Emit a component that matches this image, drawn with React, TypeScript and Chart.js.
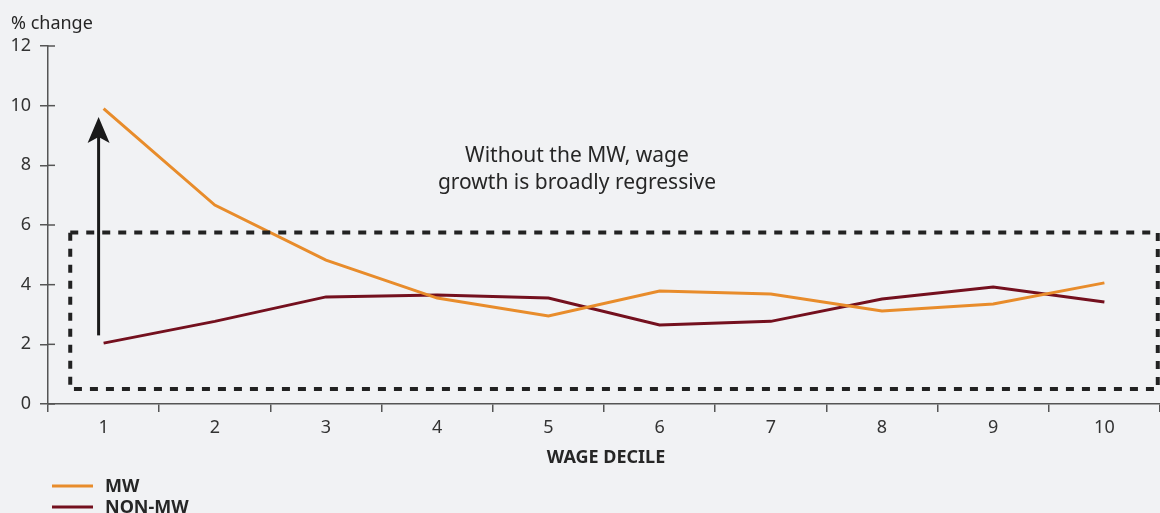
import React, { useEffect, useRef } from "react";
import { Chart, registerables } from "chart.js";

Chart.register(...registerables);

const deciles = ["1", "2", "3", "4", "5", "6", "7", "8", "9", "10"];
const mwValues = [9.9, 6.67, 4.82, 3.55, 2.95, 3.79, 3.69, 3.12, 3.35, 4.06];
const nonMwValues = [2.04, 2.77, 3.59, 3.65, 3.55, 2.65, 2.77, 3.52, 3.92, 3.42];
const yTicks = [0, 2, 4, 6, 8, 10, 12];

const annotationLines = ["Without the MW, wage", "growth is broadly regressive"];
const yAxisTitle = "% change";
const xAxisTitle = "WAGE DECILE";
const legendLabels = ["MW", "NON-MW"];

// annotation geometry in data coordinates (category index, value)
const boxXRange = [-0.3, 9.48];
const boxYRange = [0.5, 5.75];
const arrowX = -0.045;
const arrowYRange = [2.3, 9.62];

const BG = "#f1f2f4";
const ORANGE = "#e88c2b";
const MAROON = "#74101e";
const TEXT = "#262626";
const AXIS = "#555555";
const FONT = "'Noto Sans', 'Open Sans', sans-serif";

export default function App() {
  const ref = useRef<HTMLCanvasElement | null>(null);

  useEffect(() => {
    document.body.style.margin = "0";
    document.body.style.background = BG;
    const canvas = ref.current;
    if (!canvas) return;

    const overlay = {
      id: "overlay",
      beforeDraw(chart: any) {
        const ctx = chart.ctx;
        ctx.save();
        ctx.fillStyle = BG;
        ctx.fillRect(0, 0, chart.width, chart.height);
        ctx.restore();
      },
      afterDraw(chart: any) {
        const ctx = chart.ctx;
        const xs = chart.scales.x;
        const ys = chart.scales.y;
        const area = chart.chartArea;
        ctx.save();

        // y tick marks crossing into chart
        ctx.strokeStyle = AXIS;
        ctx.lineWidth = 1.5;
        yTicks.forEach((t) => {
          const py = ys.getPixelForValue(t);
          ctx.beginPath();
          ctx.moveTo(area.left, py);
          ctx.lineTo(area.left + 7, py);
          ctx.stroke();
        });

        // y axis title
        ctx.fillStyle = TEXT;
        ctx.font = `18px ${FONT}`;
        ctx.textAlign = "left";
        ctx.textBaseline = "middle";
        ctx.fillText(yAxisTitle, 11, 24);

        // x axis title
        ctx.font = `bold 18px ${FONT}`;
        ctx.textAlign = "center";
        ctx.fillText(xAxisTitle, (area.left + area.right) / 2 + 2, 458);

        // dashed box
        const bx1 = xs.getPixelForValue(boxXRange[0]);
        const bx2 = xs.getPixelForValue(boxXRange[1]);
        const by1 = ys.getPixelForValue(boxYRange[1]);
        const by2 = ys.getPixelForValue(boxYRange[0]);
        ctx.strokeStyle = "#222222";
        ctx.lineWidth = 4;
        ctx.setLineDash([8, 8]);
        ctx.strokeRect(bx1, by1, bx2 - bx1, by2 - by1);
        ctx.setLineDash([]);

        // arrow
        const ax = xs.getPixelForValue(arrowX);
        const ay1 = ys.getPixelForValue(arrowYRange[0]);
        const ay2 = ys.getPixelForValue(arrowYRange[1]);
        ctx.strokeStyle = "#1a1a1a";
        ctx.fillStyle = "#1a1a1a";
        ctx.lineWidth = 3;
        ctx.beginPath();
        ctx.moveTo(ax, ay1);
        ctx.lineTo(ax, ay2 + 15);
        ctx.stroke();
        ctx.beginPath();
        ctx.moveTo(ax, ay2);
        ctx.lineTo(ax + 11, ay2 + 26);
        ctx.lineTo(ax, ay2 + 20);
        ctx.lineTo(ax - 11, ay2 + 26);
        ctx.closePath();
        ctx.fill();

        // annotation text
        ctx.fillStyle = TEXT;
        ctx.font = `21px ${FONT}`;
        ctx.textAlign = "center";
        ctx.textBaseline = "middle";
        ctx.fillText(annotationLines[0], 577, 156);
        ctx.fillText(annotationLines[1], 577, 183);

        // legend
        const legendColors = [ORANGE, MAROON];
        const legendY = [486, 507];
        ctx.font = `bold 18px ${FONT}`;
        ctx.textAlign = "left";
        legendLabels.forEach((lbl, i) => {
          ctx.strokeStyle = legendColors[i];
          ctx.lineWidth = 3;
          ctx.beginPath();
          ctx.moveTo(52, legendY[i]);
          ctx.lineTo(93, legendY[i]);
          ctx.stroke();
          ctx.fillStyle = TEXT;
          ctx.fillText(lbl, 105, legendY[i] + 1);
        });

        ctx.restore();
      },
    };

    const chart = new Chart(canvas, {
      type: "line",
      data: {
        labels: deciles,
        datasets: [
          {
            label: legendLabels[0],
            data: mwValues,
            borderColor: ORANGE,
            borderWidth: 3,
            pointRadius: 0,
            tension: 0,
          },
          {
            label: legendLabels[1],
            data: nonMwValues,
            borderColor: MAROON,
            borderWidth: 3,
            pointRadius: 0,
            tension: 0,
          },
        ],
      },
      options: {
        animation: false,
        responsive: false,
        devicePixelRatio: 1,
        layout: { padding: { top: 46, right: 0, left: 0, bottom: 0 } },
        plugins: {
          legend: { display: false },
          tooltip: { enabled: false },
        },
        scales: {
          x: {
            offset: true,
            afterFit: (s: any) => {
              s.height = 109;
            },
            grid: {
              offset: true,
              drawOnChartArea: false,
              drawTicks: true,
              tickLength: 8,
              color: AXIS,
              lineWidth: 1.5,
            },
            border: { display: true, color: AXIS, width: 1.5 },
            ticks: {
              color: "#333333",
              font: { family: FONT, size: 18 },
              padding: 5,
              maxRotation: 0,
            },
          },
          y: {
            min: 0,
            max: 12,
            afterFit: (s: any) => {
              s.width = 48;
            },
            afterBuildTicks: (s: any) => {
              s.ticks = yTicks.map((v) => ({ value: v }));
            },
            grid: {
              drawOnChartArea: false,
              drawTicks: true,
              tickLength: 8,
              color: AXIS,
              lineWidth: 1.5,
            },
            border: { display: true, color: AXIS, width: 1.5 },
            ticks: {
              color: "#333333",
              font: { family: FONT, size: 18 },
              padding: 9,
            },
          },
        },
      },
      plugins: [overlay],
    });

    return () => chart.destroy();
  }, []);

  return (
    <div style={{ width: 1160, height: 513, background: BG }}>
      <canvas ref={ref} width={1160} height={513} style={{ display: "block" }} />
    </div>
  );
}
